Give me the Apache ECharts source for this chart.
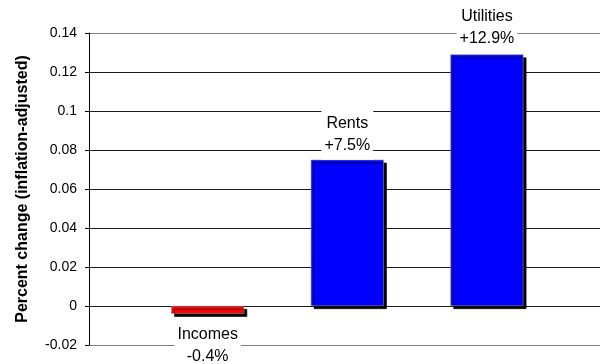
<!DOCTYPE html>
<html>
<head>
<meta charset="utf-8">
<title>Percent change (inflation-adjusted)</title>
<script src="https://cdn.jsdelivr.net/npm/echarts@6/dist/echarts.min.js"></script>
<style>
  html, body { margin: 0; padding: 0; background: #fff; }
  #chart { width: 600px; height: 364px; }
</style>
</head>
<body>
<div id="chart"></div>
<script>
// Inflation-adjusted change in incomes, rents and utilities
const categories = ['Incomes', 'Rents', 'Utilities'];
const changes = [-0.004, 0.075, 0.129];
const barColors = ['#ff0000', '#0000ff', '#0000ff'];
const tickLabels = ['-0.02', '0', '0.02', '0.04', '0.06', '0.08', '0.1', '0.12', '0.14'];
const axisTitle = 'Percent change (inflation-adjusted)';

const yMin = -0.02, yMax = 0.14, yStep = 0.02;

function pctText(v) {
  const p = (v * 100).toFixed(1);
  return (v >= 0 ? '+' : '') + p + '%';
}

// outer frame lines are lighter than the inner gridlines
const splitColors = tickLabels.map((t, i) =>
  (i === 0 || i === tickLabels.length - 1) ? '#808080' : '#1a1a1a');

const labelGap = [7, 0, 2];

const barData = categories.map((name, i) => ({
  name: name,
  value: [i + 1, changes[i]],
  itemStyle: { color: barColors[i] },
  label: {
    position: changes[i] < 0 ? 'bottom' : 'top',
    distance: labelGap[i]
  }
}));

const chart = echarts.init(document.getElementById('chart'), null, { renderer: 'canvas' });
chart.setOption({
  animation: false,
  backgroundColor: '#fff',
  grid: { left: 89, right: 0, top: 33, bottom: 19, containLabel: false },
  xAxis: {
    type: 'value',
    min: 0.15,
    max: 3.81,
    show: false
  },
  yAxis: {
    type: 'value',
    min: yMin,
    max: yMax,
    interval: yStep,
    name: axisTitle,
    nameLocation: 'middle',
    nameGap: 58,
    nameTextStyle: {
      fontFamily: 'Liberation Sans, Arial, sans-serif',
      fontSize: 16,
      fontWeight: 'bold',
      color: '#000'
    },
    axisLine: { show: true, lineStyle: { color: '#000', width: 1 } },
    axisTick: { show: true, inside: false, length: 4, lineStyle: { color: '#000' } },
    axisLabel: {
      margin: 12,
      fontFamily: 'Liberation Sans, Arial, sans-serif',
      fontSize: 14,
      color: '#000',
      formatter: function (v) {
        return tickLabels[Math.round((v - yMin) / yStep)];
      }
    },
    splitLine: { show: true, lineStyle: { color: splitColors, width: 1 } }
  },
  series: [{
    type: 'bar',
    barWidth: 73,
    data: barData,
    itemStyle: {
      borderColor: '#8c8c8c',
      borderWidth: 0.6,
      shadowColor: '#000',
      shadowBlur: 0,
      shadowOffsetX: 3,
      shadowOffsetY: 3
    },
    label: {
      show: true,
      fontFamily: 'Liberation Sans, Arial, sans-serif',
      fontSize: 16,
      lineHeight: 22,
      color: '#000',
      backgroundColor: '#fff',
      padding: [3, 3],
      align: 'center',
      formatter: function (p) {
        return p.name + '\n' + pctText(p.value[1]);
      }
    }
  }]
});
</script>
</body>
</html>
